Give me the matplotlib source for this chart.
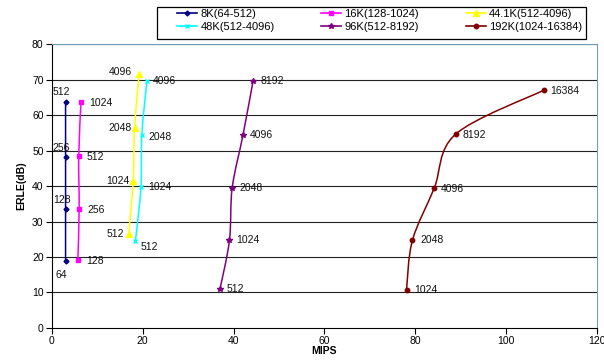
import numpy as np
import matplotlib
matplotlib.use("Agg")
import matplotlib.pyplot as plt
from matplotlib.path import Path
from matplotlib.patches import PathPatch, Rectangle
from matplotlib.lines import Line2D

plt.rcParams['font.family'] = ['Liberation Sans', 'DejaVu Sans']

# data (MIPS, ERLE dB, block length label)
names = ['8K(64-512)', '16K(128-1024)', '44.1K(512-4096)',
         '48K(512-4096)', '96K(512-8192)', '192K(1024-16384)']
mips_8k = [3.0, 3.0, 3.0, 3.0]
erle_8k = [18.9, 33.4, 48.3, 63.7]
lab_8k = ['64', '128', '256', '512']
mips_16k = [5.7, 6.0, 5.9, 6.4]
erle_16k = [19.1, 33.6, 48.4, 63.7]
lab_16k = ['128', '256', '512', '1024']
mips_44k = [16.9, 17.9, 18.2, 19.2]
erle_44k = [26.4, 41.4, 56.3, 71.6]
lab_44k = ['512', '1024', '2048', '4096']
mips_48k = [18.4, 19.6, 19.8, 20.9]
erle_48k = [24.6, 39.6, 54.4, 69.5]
lab_48k = ['512', '1024', '2048', '4096']
mips_96k = [37.0, 39.1, 39.7, 42.1, 44.3]
erle_96k = [10.9, 24.7, 39.5, 54.5, 69.6]
lab_96k = ['512', '1024', '2048', '4096', '8192']
mips_192k = [78.1, 79.4, 84.2, 88.9, 108.3]
erle_192k = [10.8, 24.7, 39.4, 54.6, 67.0]
lab_192k = ['1024', '2048', '4096', '8192', '16384']

xs = [mips_8k, mips_16k, mips_44k, mips_48k, mips_96k, mips_192k]
ys = [erle_8k, erle_16k, erle_44k, erle_48k, erle_96k, erle_192k]
labs = [lab_8k, lab_16k, lab_44k, lab_48k, lab_96k, lab_192k]

colors = ['#000080', '#FF00FF', '#FFFF00', '#00FFFF', '#800080', '#800000']
markers = ['D', 's', '^', 'x', '*', 'o']
msizes = [2.5, 3.2, 4, 3.5, 4, 3.2]

# label offsets in pixels per series (dx, dy, ha)
offsets = [
    [(-4, -14, 'center'), (-4, 9, 'center'), (-4, 9, 'center'), (-4, 10, 'center')],
    [(8, -1, 'left')] * 4,
    [(-5, 0, 'right'), (-4, 0, 'right'), (-3, 0, 'right'), (-7, 2, 'right')],
    [(5, -6, 'left'), (7, 0, 'left'), (7, -2, 'left'), (6, 0, 'left')],
    [(7, 0, 'left')] * 5,
    [(8, 0, 'left'), (8, 0, 'left'), (7, -1, 'left'), (7, -1, 'left'), (7, -1, 'left')],
]


def smooth_path(x, y):
    # Excel style smoothed line: cubic bezier through the points
    pts = np.column_stack([x, y])
    n = len(pts)
    verts = [pts[0]]
    codes = [Path.MOVETO]
    for i in range(n - 1):
        p0 = pts[i - 1] if i > 0 else pts[i]
        p1 = pts[i]
        p2 = pts[i + 1]
        p3 = pts[i + 2] if i + 2 < n else pts[i + 1]
        verts += [p1 + (p2 - p0) / 6, p2 - (p3 - p1) / 6, p2]
        codes += [Path.CURVE4] * 3
    return Path(verts, codes)


fig = plt.figure(figsize=(6.04, 3.62), dpi=100)
ax = fig.add_axes([0.086, 0.094, 0.902, 0.784])

for i in range(6):
    ax.add_patch(PathPatch(smooth_path(xs[i], ys[i]), facecolor='none',
                           edgecolor=colors[i], lw=1.1, zorder=3))
    ax.plot(xs[i], ys[i], linestyle='none', marker=markers[i], ms=msizes[i],
            color=colors[i], mec=colors[i], mew=1.0, zorder=4)
    for j in range(len(xs[i])):
        dx, dy, ha = offsets[i][j]
        ax.annotate(labs[i][j], (xs[i][j], ys[i][j]), xytext=(dx, dy),
                    textcoords='offset pixels', ha=ha, va='center',
                    fontsize=7.5, color='#111111', zorder=5)

ax.set_xlim(0, 120)
ax.set_ylim(0, 80)
ax.set_xticks(range(0, 121, 20))
ax.set_yticks(range(0, 81, 10))
ax.tick_params(direction='out', length=4, width=0.8, labelsize=7.5, pad=2)
for y in range(10, 81, 10):
    ax.axhline(y, color='#222222', lw=0.8, zorder=1)
ax.spines['left'].set_color('black')
ax.spines['bottom'].set_color('black')
ax.spines['top'].set_color('#6f9fb0')
ax.spines['right'].set_color('#6f9fb0')
ax.set_xlabel('MIPS', fontsize=7.5, fontweight='bold', labelpad=0)
ax.set_ylabel('ERLE(dB)', fontsize=7.5, fontweight='bold', labelpad=4)

# legend box drawn separately, entries placed inside it
fig.patches.append(Rectangle((157 / 604, 1 - 39 / 362), 429 / 604, 32 / 362,
                             transform=fig.transFigure, fill=False,
                             edgecolor='black', lw=0.9))
handles = [Line2D([0], [0], color=colors[i], marker=markers[i], ms=msizes[i],
                  mew=1.0, lw=1.2) for i in range(6)]
order = [0, 3, 1, 4, 2, 5]
leg = fig.legend([handles[k] for k in order], [names[k] for k in order],
                 ncol=3, loc='upper left', bbox_to_anchor=(177 / 604, 1 - 9 / 362),
                 fontsize=8, frameon=False, borderpad=0, borderaxespad=0,
                 labelspacing=0.3, handlelength=1.8, handletextpad=0.3,
                 columnspacing=4.2)

fig.savefig('out.png', dpi=100)
